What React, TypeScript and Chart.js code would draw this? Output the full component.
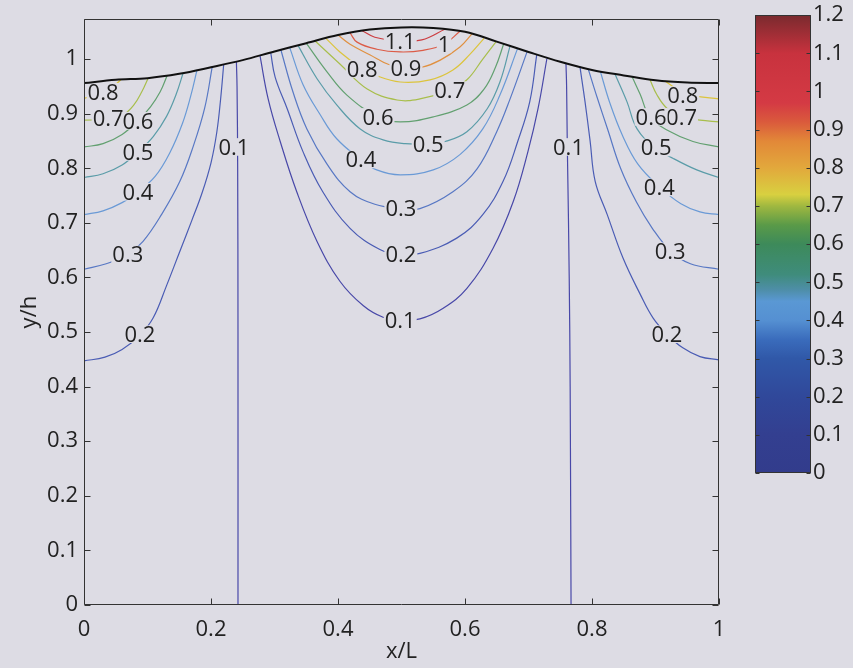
import React, { useEffect, useRef } from "react";
import { Chart, registerables } from "chart.js";

Chart.register(...registerables);

const PAGE_BG = "#dddce4";
const INK = "#222222";
const FRAME = "#333333";
const FONT_FAMILY = "'Open Sans', 'DejaVu Sans', sans-serif";
const FONT_SIZE = 22;

// axes
const X_TICKS = [0, 0.2, 0.4, 0.6, 0.8, 1];
const Y_TICKS = [0, 0.1, 0.2, 0.3, 0.4, 0.5, 0.6, 0.7, 0.8, 0.9, 1];
const Y_MAX = 1.073;
const CB_TICKS = [0, 0.1, 0.2, 0.3, 0.4, 0.5, 0.6, 0.7, 0.8, 0.9, 1, 1.1, 1.2];
const CB_MAX = 1.2;

// free surface elevation
const surfaceX = [0, 0.05, 0.1, 0.15, 0.2, 0.25, 0.3, 0.35, 0.4, 0.45, 0.5, 0.55, 0.6, 0.65, 0.7, 0.75, 0.8, 0.85, 0.9, 0.95, 1];
const surfaceY = [0.956, 0.962, 0.965, 0.973, 0.985, 0.998, 1.014, 1.029, 1.044, 1.054, 1.058, 1.057, 1.05, 1.032, 1.013, 0.995, 0.98, 0.97, 0.961, 0.957, 0.956];

// contour levels and their line colours
const levels = [0.1, 0.2, 0.3, 0.4, 0.5, 0.6, 0.7, 0.8, 0.9, 1.0, 1.1];
const levelColors = ["#4848a8", "#4a5cb4", "#5878c4", "#6a9ad6", "#5a9ca8", "#62a070", "#a8be4c", "#dcc43c", "#e09040", "#dc5c48", "#cc3c40"];

// contours near the left wall, [x/L, y/h]
const left08 = [[0, 0.928], [0.025, 0.936], [0.045, 0.949], [0.058, 0.962]];
const left07 = [[0, 0.888], [0.038, 0.89], [0.062, 0.898], [0.078, 0.915], [0.091, 0.94], [0.101, 0.965]];
const left06 = [[0, 0.839], [0.03, 0.845], [0.06, 0.862], [0.085, 0.887], [0.105, 0.913], [0.12, 0.94], [0.131, 0.97]];
const left05 = [[0, 0.783], [0.03, 0.79], [0.06, 0.806], [0.085, 0.83], [0.109, 0.858], [0.13, 0.895], [0.145, 0.935], [0.156, 0.974]];
const left04 = [[0, 0.715], [0.03, 0.722], [0.06, 0.737], [0.085, 0.757], [0.112, 0.785], [0.135, 0.828], [0.155, 0.882], [0.168, 0.932], [0.178, 0.98]];
const left03 = [[0, 0.615], [0.035, 0.625], [0.069, 0.642], [0.093, 0.666], [0.122, 0.715], [0.151, 0.776], [0.172, 0.84], [0.19, 0.91], [0.202, 0.986]];
const left02 = [[0, 0.447], [0.033, 0.454], [0.06, 0.468], [0.088, 0.494], [0.109, 0.526], [0.13, 0.585], [0.151, 0.648], [0.17, 0.705], [0.186, 0.755], [0.2, 0.81], [0.209, 0.865], [0.215, 0.925], [0.22, 0.99]];
const left01 = [[0.2425, 0], [0.2425, 0.5], [0.242, 0.8], [0.241, 0.95], [0.24, 0.995]];

// contours under the crest
const mid01 = [[0.277, 1.007], [0.29, 0.927], [0.309, 0.849], [0.335, 0.757], [0.367, 0.666], [0.403, 0.593], [0.44, 0.548], [0.471, 0.527], [0.498, 0.522], [0.529, 0.524], [0.565, 0.543], [0.603, 0.58], [0.644, 0.653], [0.676, 0.739], [0.699, 0.83], [0.715, 0.909], [0.729, 1.001]];
const mid02 = [[0.294, 1.012], [0.301, 0.967], [0.32, 0.909], [0.345, 0.83], [0.376, 0.757], [0.419, 0.69], [0.466, 0.651], [0.499, 0.642], [0.529, 0.644], [0.587, 0.672], [0.628, 0.715], [0.66, 0.776], [0.683, 0.849], [0.702, 0.922], [0.713, 1.008]];
const mid03 = [[0.31, 1.017], [0.329, 0.94], [0.351, 0.872], [0.383, 0.807], [0.419, 0.757], [0.458, 0.734], [0.499, 0.726], [0.529, 0.726], [0.581, 0.757], [0.619, 0.799], [0.65, 0.867], [0.671, 0.927], [0.698, 1.014]];
const mid04 = [[0.324, 1.021], [0.345, 0.953], [0.372, 0.898], [0.398, 0.854], [0.436, 0.816], [0.461, 0.797], [0.498, 0.788], [0.55, 0.797], [0.592, 0.825], [0.628, 0.872], [0.655, 0.934], [0.683, 1.02]];
const mid05 = [[0.337, 1.025], [0.367, 0.964], [0.398, 0.916], [0.435, 0.872], [0.471, 0.852], [0.506, 0.845], [0.542, 0.845], [0.569, 0.849], [0.603, 0.867], [0.635, 0.909], [0.655, 0.958], [0.671, 1.024]];
const mid06 = [[0.35, 1.029], [0.383, 0.976], [0.414, 0.934], [0.463, 0.894], [0.498, 0.885], [0.55, 0.894], [0.603, 0.916], [0.63, 0.945], [0.648, 0.985], [0.661, 1.028]];
const mid07 = [[0.364, 1.033], [0.403, 0.991], [0.446, 0.945], [0.493, 0.925], [0.529, 0.927], [0.576, 0.943], [0.603, 0.962], [0.628, 1.0], [0.649, 1.032]];
const mid08 = [[0.381, 1.038], [0.403, 1.013], [0.438, 0.982], [0.455, 0.972], [0.498, 0.958], [0.545, 0.962], [0.581, 0.98], [0.608, 1.009], [0.63, 1.038]];
const mid09 = [[0.4, 1.044], [0.419, 1.027], [0.45, 1.008], [0.48, 0.99], [0.507, 0.984], [0.532, 0.985], [0.561, 0.998], [0.592, 1.022], [0.611, 1.046]];
const mid10 = [[0.419, 1.048], [0.43, 1.031], [0.461, 1.018], [0.498, 1.013], [0.534, 1.016], [0.567, 1.027], [0.592, 1.051]];
const mid11 = [[0.438, 1.052], [0.458, 1.04], [0.498, 1.033], [0.532, 1.035], [0.569, 1.055]];

// contours near the right wall
const right08 = [[0.915, 0.96], [0.935, 0.944], [0.96, 0.933], [1, 0.927]];
const right07 = [[0.891, 0.963], [0.902, 0.935], [0.918, 0.91], [0.943, 0.894], [0.97, 0.888], [1, 0.885]];
const right06 = [[0.863, 0.968], [0.876, 0.935], [0.891, 0.894], [0.918, 0.87], [0.959, 0.849], [1, 0.839]];
const right05 = [[0.836, 0.973], [0.855, 0.922], [0.871, 0.872], [0.899, 0.838], [0.928, 0.818], [0.965, 0.797], [1, 0.783]];
const right04 = [[0.813, 0.978], [0.828, 0.92], [0.848, 0.86], [0.872, 0.808], [0.907, 0.765], [0.94, 0.735], [0.97, 0.72], [1, 0.715]];
const right03 = [[0.794, 0.982], [0.808, 0.93], [0.825, 0.87], [0.845, 0.8], [0.87, 0.738], [0.895, 0.69], [0.924, 0.648], [0.955, 0.625], [1, 0.615]];
const right02 = [[0.781, 0.986], [0.789, 0.922], [0.797, 0.85], [0.805, 0.776], [0.824, 0.715], [0.849, 0.635], [0.876, 0.569], [0.896, 0.526], [0.918, 0.496], [0.943, 0.471], [0.97, 0.455], [1, 0.449]];
const right01 = [[0.767, 0], [0.766, 0.3], [0.765, 0.5], [0.763, 0.7], [0.761, 0.85], [0.76, 0.95], [0.759, 0.992]];

const contourLines = [
  { level: 0.8, pts: left08 }, { level: 0.7, pts: left07 }, { level: 0.6, pts: left06 }, { level: 0.5, pts: left05 },
  { level: 0.4, pts: left04 }, { level: 0.3, pts: left03 }, { level: 0.2, pts: left02 }, { level: 0.1, pts: left01 },
  { level: 0.1, pts: mid01 }, { level: 0.2, pts: mid02 }, { level: 0.3, pts: mid03 }, { level: 0.4, pts: mid04 },
  { level: 0.5, pts: mid05 }, { level: 0.6, pts: mid06 }, { level: 0.7, pts: mid07 }, { level: 0.8, pts: mid08 },
  { level: 0.9, pts: mid09 }, { level: 1.0, pts: mid10 }, { level: 1.1, pts: mid11 },
  { level: 0.8, pts: right08 }, { level: 0.7, pts: right07 }, { level: 0.6, pts: right06 }, { level: 0.5, pts: right05 },
  { level: 0.4, pts: right04 }, { level: 0.3, pts: right03 }, { level: 0.2, pts: right02 }, { level: 0.1, pts: right01 },
];

// inline contour labels
const labelText = ["0.8", "0.7", "0.6", "0.5", "0.4", "0.3", "0.2", "0.1",
  "1.1", "1", "0.9", "0.8", "0.7", "0.6", "0.5", "0.4", "0.3", "0.2", "0.1",
  "0.8", "0.7", "0.6", "0.5", "0.4", "0.3", "0.2", "0.1"];
const labelX = [0.03, 0.038, 0.085, 0.085, 0.085, 0.069, 0.088, 0.236,
  0.498, 0.567, 0.507, 0.438, 0.576, 0.463, 0.542, 0.436, 0.499, 0.499, 0.498,
  0.943, 0.941, 0.893, 0.901, 0.906, 0.923, 0.918, 0.763];
const labelY = [0.94, 0.891, 0.887, 0.83, 0.757, 0.642, 0.496, 0.839,
  1.033, 1.027, 0.984, 0.982, 0.943, 0.894, 0.845, 0.816, 0.726, 0.642, 0.522,
  0.934, 0.894, 0.894, 0.838, 0.765, 0.648, 0.496, 0.839];

// colour map of the colour bar
const cmapStops = [0, 0.1, 0.2, 0.3, 0.35, 0.4, 0.45, 0.48, 0.52, 0.6, 0.65, 0.7, 0.73, 0.8, 0.87, 0.92, 0.97, 1.1, 1.2];
const cmapColors = ["#323c8c", "#333f90", "#30489a", "#3058a8", "#3a6cbc", "#5590d2", "#5a98d4", "#4e8ea8", "#3f8c7c", "#3d8a5a", "#5a9a48", "#a0b840", "#d8d040", "#e2a83c", "#e28838", "#da5a3c", "#d43a44", "#c8323e", "#7a2a2e"];

const TICK_LEN = 6;
const CB_TICK_LEN = 4;

const fmt = (v: number | string) => String(Math.round(Number(v) * 10) / 10);
const font = { family: FONT_FAMILY, size: FONT_SIZE };

function colorForLevel(level: number) {
  const i = levels.findIndex((l) => Math.abs(l - level) < 1e-6);
  return levelColors[i < 0 ? 0 : i];
}

const contourDecor = {
  id: "contourDecor",
  beforeDatasetDraw(chart: any, args: any) {
    if (args.index !== 0) return;
    const { ctx, scales } = chart;
    const xs = scales.x;
    const ys = scales.y;
    ctx.save();
    ctx.font = `${FONT_SIZE}px ${FONT_FAMILY}`;
    ctx.textAlign = "center";
    ctx.textBaseline = "alphabetic";
    labelText.forEach((t, i) => {
      const px = xs.getPixelForValue(labelX[i]);
      const py = ys.getPixelForValue(labelY[i]);
      const w = ctx.measureText(t).width;
      const h = FONT_SIZE * 0.8;
      ctx.fillStyle = PAGE_BG;
      ctx.fillRect(px - w / 2 - 1, py - h / 2, w + 2, h);
      ctx.fillStyle = INK;
      ctx.fillText(t, px, py + FONT_SIZE * 0.357);
    });
    ctx.restore();
  },
  afterDraw(chart: any) {
    const { ctx, chartArea: a, scales } = chart;
    const xs = scales.x;
    const ys = scales.y;
    ctx.save();
    ctx.strokeStyle = FRAME;
    ctx.lineWidth = 1;
    ctx.beginPath();
    const L = Math.round(a.left) + 0.5;
    const R = Math.round(a.right) - 0.5;
    const T = Math.round(a.top) + 0.5;
    const B = Math.round(a.bottom) - 0.5;
    ctx.rect(L, T, R - L, B - T);
    X_TICKS.forEach((v) => {
      const px = Math.round(xs.getPixelForValue(v)) + 0.5;
      ctx.moveTo(px, B);
      ctx.lineTo(px, B - TICK_LEN);
      ctx.moveTo(px, T);
      ctx.lineTo(px, T + TICK_LEN);
    });
    Y_TICKS.forEach((v) => {
      const py = Math.round(ys.getPixelForValue(v)) + 0.5;
      ctx.moveTo(L, py);
      ctx.lineTo(L + TICK_LEN, py);
      ctx.moveTo(R, py);
      ctx.lineTo(R - TICK_LEN, py);
    });
    ctx.stroke();
    ctx.restore();
  },
};

const colorbarFrame = {
  id: "colorbarFrame",
  afterDraw(chart: any) {
    const { ctx, chartArea: a, scales } = chart;
    const ys = scales.y;
    ctx.save();
    ctx.strokeStyle = FRAME;
    ctx.lineWidth = 1;
    ctx.beginPath();
    const L = Math.round(a.left) + 0.5;
    const R = Math.round(a.right) - 0.5;
    const T = Math.round(a.top) + 0.5;
    const B = Math.round(a.bottom) - 0.5;
    ctx.rect(L, T, R - L, B - T);
    CB_TICKS.forEach((v) => {
      const py = Math.round(ys.getPixelForValue(v)) + 0.5;
      ctx.moveTo(L, py);
      ctx.lineTo(L + CB_TICK_LEN, py);
      ctx.moveTo(R, py);
      ctx.lineTo(R - CB_TICK_LEN, py);
    });
    ctx.stroke();
    ctx.restore();
  },
};

export default function App() {
  const mainRef = useRef<HTMLCanvasElement>(null);
  const barRef = useRef<HTMLCanvasElement>(null);

  useEffect(() => {
    if (!mainRef.current || !barRef.current) return;

    const datasets: any[] = [
      {
        label: "surface",
        data: surfaceX.map((x, i) => ({ x, y: surfaceY[i] })),
        borderColor: "#111111",
        borderWidth: 2,
        pointRadius: 0,
        tension: 0.35,
        order: 0,
      },
      ...contourLines.map((c) => ({
        label: fmt(c.level),
        data: c.pts.map(([x, y]) => ({ x, y })),
        borderColor: colorForLevel(c.level),
        borderWidth: 1.2,
        pointRadius: 0,
        tension: 0.4,
        order: 1,
      })),
    ];

    const main = new Chart(mainRef.current, {
      type: "line",
      data: { datasets },
      options: {
        responsive: false,
        maintainAspectRatio: false,
        animation: false,
        events: [],
        layout: { padding: { left: 0, top: 17, right: 134, bottom: 0 } },
        plugins: { legend: { display: false }, tooltip: { enabled: false } },
        scales: {
          x: {
            type: "linear",
            min: 0,
            max: 1,
            afterBuildTicks: (s: any) => {
              s.ticks = X_TICKS.map((v) => ({ value: v }));
            },
            afterFit: (s: any) => {
              s.height = 63;
            },
            grid: { display: false, drawTicks: false },
            border: { display: false },
            ticks: { padding: 12, color: INK, font, maxRotation: 0, autoSkip: false, callback: (v: any) => fmt(v) },
            title: { display: true, text: "x/L", color: INK, font, padding: { top: 0, bottom: 3 } },
          },
          y: {
            type: "linear",
            min: 0,
            max: Y_MAX,
            afterBuildTicks: (s: any) => {
              s.ticks = Y_TICKS.map((v) => ({ value: v }));
            },
            afterFit: (s: any) => {
              s.width = 84;
            },
            grid: { display: false, drawTicks: false },
            border: { display: false },
            ticks: { padding: 6, color: INK, font, autoSkip: false, callback: (v: any) => fmt(v) },
            title: { display: true, text: "y/h", color: INK, font, padding: { top: 17, bottom: 0 } },
          },
        },
      } as any,
      plugins: [contourDecor],
    });

    const bar = new Chart(barRef.current, {
      type: "bar",
      data: {
        labels: [""],
        datasets: [
          {
            data: [CB_MAX],
            borderWidth: 0,
            barPercentage: 1,
            categoryPercentage: 1,
            backgroundColor: (c: any) => {
              const a = c.chart.chartArea;
              if (!a) return cmapColors[0];
              const g = c.chart.ctx.createLinearGradient(0, a.bottom, 0, a.top);
              cmapStops.forEach((s, i) => g.addColorStop(s / CB_MAX, cmapColors[i]));
              return g;
            },
          },
        ],
      },
      options: {
        responsive: false,
        maintainAspectRatio: false,
        animation: false,
        events: [],
        layout: { padding: { left: 15, top: 15, right: 0, bottom: 195 } },
        plugins: { legend: { display: false }, tooltip: { enabled: false } },
        scales: {
          x: { display: false },
          y: {
            position: "right",
            min: 0,
            max: CB_MAX,
            afterBuildTicks: (s: any) => {
              s.ticks = CB_TICKS.map((v) => ({ value: v }));
            },
            afterFit: (s: any) => {
              s.width = 42;
            },
            grid: { display: false, drawTicks: false },
            border: { display: false },
            ticks: { padding: 2, color: INK, font, autoSkip: false, callback: (v: any) => fmt(v) },
          },
        },
      } as any,
      plugins: [colorbarFrame],
    });

    return () => {
      main.destroy();
      bar.destroy();
    };
  }, []);

  return (
    <div style={{ position: "fixed", left: 0, top: 0, width: 853, height: 668, background: PAGE_BG, overflow: "hidden" }}>
      <canvas ref={mainRef} width={853} height={668} style={{ position: "absolute", left: 0, top: 0 }} />
      <canvas ref={barRef} width={113} height={668} style={{ position: "absolute", left: 740, top: 0 }} />
    </div>
  );
}
